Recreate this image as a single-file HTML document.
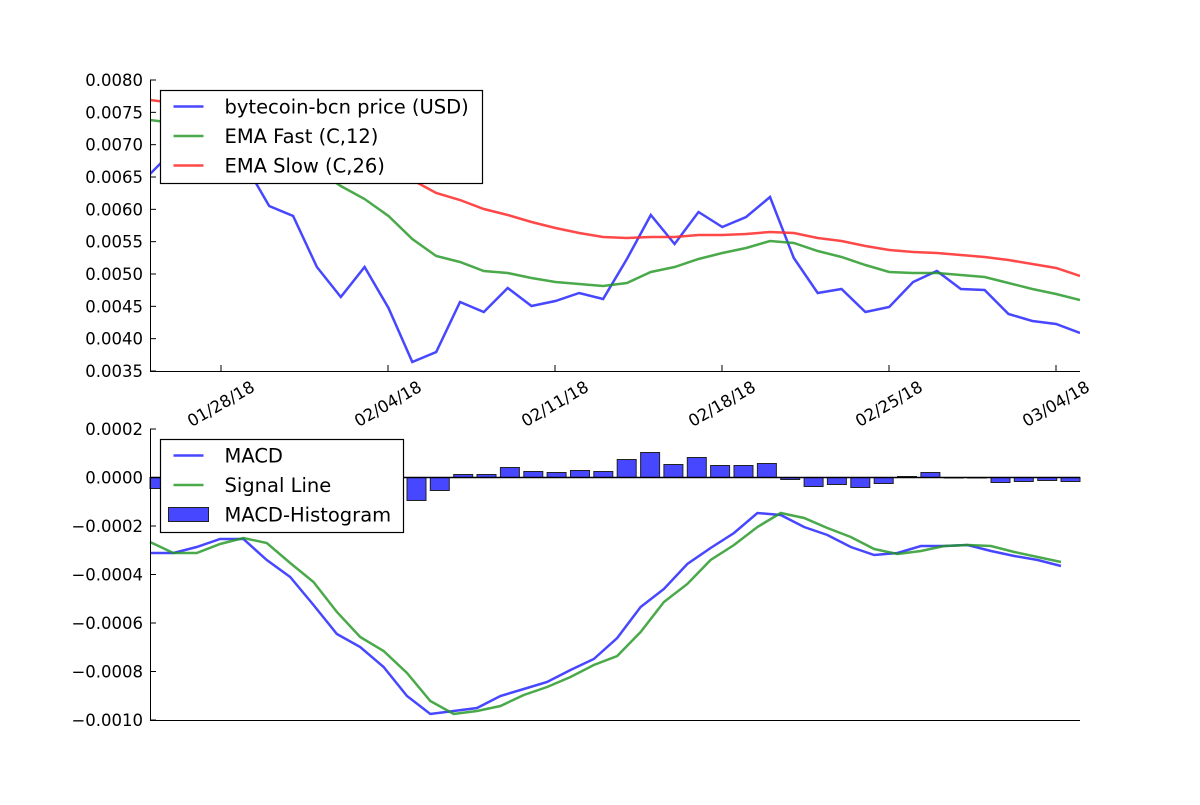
<!DOCTYPE html>
<html><head><meta charset="utf-8"><style>
html,body{margin:0;padding:0;background:#fff;}
svg text{font-family:"DejaVu Sans","Liberation Sans",sans-serif;}
</style></head><body>
<svg id="s" width="1200" height="800" xmlns="http://www.w3.org/2000/svg"></svg>
<script>
const s=document.getElementById('s');let h='';
const B='rgba(51,51,255,0.9)',G='rgba(34,150,34,0.82)',R='rgba(255,40,40,0.85)';
const price=[174,150,145,148,165,206,216,267,297,267,308,362,352,302,312,288,306,301,293,299,259,215,244,212,227,217,197,258,293,289,312,307,282,271,289,290,314,321,324,333];
const fast=[120,123,126,129,133,143,155,170,186,199,216,239,256,262,271,273,278,282,284,286,283,272,267,259,253,248,241,243,251,257,265,272,273,273,275,277,283,289,294,300];
const slow=[100,103,106,110,115,121,128,137,148,160,172,180,193,200,209,215,222,228,233,237,238,237,237,235,235,234,232,233,238,241,246,250,252,253,255,257,260,264,268,276];
const macd=[553,553,547,539,539,560,577,605,634,647,667,696,714,711,708,696,689,682,670,659,638,607,589,564,548,533,513,515,527,535,547,555,553,546,546,545,551,556,560,566];
const sig=[542,553,553,544,538,543,563,582,612,637,651,673,701,714,711,706,695,687,677,665,656,632,602,584,560,545,527,513,518,528,537,549,554,551,546,545,546,552,557,562];
function pl(a,dx,c){let p=a.map((y,i)=>(150+dx*i).toFixed(1)+','+y).join(' ');h+=`<polyline points="${p}" fill="none" stroke="${c}" stroke-width="2.5" stroke-linejoin="miter"/>`;}
h+='<defs><clipPath id="c1"><rect x="150" y="80" width="930" height="291"/></clipPath></defs><g clip-path="url(#c1)">';
pl(price,23.846,B);pl(fast,23.846,G);pl(slow,23.846,R);h+='</g>';
const z=477.5;
for(let i=0;i<40;i++){const x=150+23.36*i;const v=macd[i]-sig[i];const y=Math.min(z,z+v),hh=Math.abs(v);
h+=`<rect x="${x.toFixed(1)}" y="${y}" width="19" height="${Math.max(hh,0.5)}" fill="rgba(51,51,255,0.9)" stroke="#222" stroke-width="1"/>`;}
h+=`<line x1="150" y1="${z}" x2="1080" y2="${z}" stroke="#000" stroke-width="1.5"/>`;
pl(macd,23.36,B);pl(sig,23.36,G);
h+='<path d="M150.5 80V371.5H1080" fill="none" stroke="#000" stroke-width="1"/>';
h+='<path d="M150.5 429V720.5H1080" fill="none" stroke="#000" stroke-width="1"/>';
const tl=['0.0080','0.0075','0.0070','0.0065','0.0060','0.0055','0.0050','0.0045','0.0040','0.0035'];
tl.forEach((t,i)=>{const y=80+i*291/9;h+=`<line x1="150" y1="${y}" x2="156" y2="${y}" stroke="#000"/><text x="143" y="${y+6}" font-size="16.5" text-anchor="end">${t}</text>`;});
const bl=['0.0002','0.0000','\u22120.0002','\u22120.0004','\u22120.0006','\u22120.0008','\u22120.0010'];
bl.forEach((t,i)=>{const y=429+i*48.5;h+=`<line x1="150" y1="${y}" x2="156" y2="${y}" stroke="#000"/><text x="143" y="${y+6}" font-size="16.5" text-anchor="end">${t}</text>`;});
const xl=['01/28/18','02/04/18','02/11/18','02/18/18','02/25/18','03/04/18'];
xl.forEach((t,i)=>{const x=221+i*167;h+=`<line x1="${x}" y1="371" x2="${x}" y2="365" stroke="#000"/><text transform="translate(${x},${404}) rotate(-30)" font-size="16.5" text-anchor="middle" dominant-baseline="central">${t}</text>`;});
function leg(x,y,w,items){h+=`<rect x="${x}" y="${y}" width="${w}" height="93" fill="#fff" stroke="#000" stroke-width="1.2"/>`;
items.forEach((it,i)=>{const cy=y+16+i*29.5;
if(it[2])h+=`<rect x="${x+8}" y="${cy-7}" width="40" height="14" fill="rgba(51,51,255,0.9)" stroke="#222"/>`;
else h+=`<line x1="${x+13}" y1="${cy}" x2="${x+43}" y2="${cy}" stroke="${it[1]}" stroke-width="2.5"/>`;
h+=`<text x="${x+64}" y="${cy+7}" font-size="19.5">${it[0]}</text>`;});}
leg(160.5,90.5,322,[['bytecoin-bcn price (USD)',B],['EMA Fast (C,12)',G],['EMA Slow (C,26)',R]]);
leg(160.5,439.5,243,[['MACD',B],['Signal Line',G],['MACD-Histogram',B,1]]);
s.innerHTML=h;
</script>
</body></html>
